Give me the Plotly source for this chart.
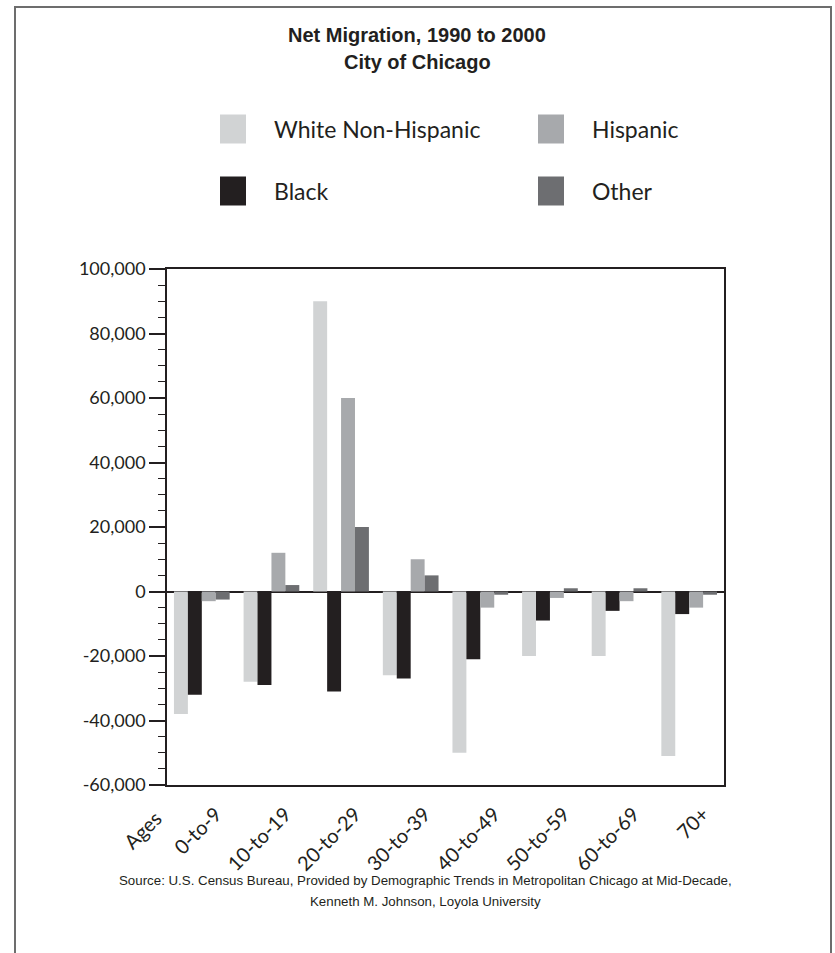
import plotly.graph_objects as go

# ---- data ----
age_groups = ["0-to-9", "10-to-19", "20-to-29", "30-to-39", "40-to-49", "50-to-59", "60-to-69", "70+"]
series_names = ["White Non-Hispanic", "Black", "Hispanic", "Other"]
white_vals = [-38000, -28000, 90000, -26000, -50000, -20000, -20000, -51000]
black_vals = [-32000, -29000, -31000, -27000, -21000, -9000, -6000, -7000]
hispanic_vals = [-3000, 12000, 60000, 10000, -5000, -2000, -3000, -5000]
other_vals = [-2500, 2000, 20000, 5000, -1000, 1000, 1000, -1000]
y_tickvals = [100000, 80000, 60000, 40000, 20000, 0, -20000, -40000, -60000]
y_ticktext = ["100,000", "80,000", "60,000", "40,000", "20,000", "0", "-20,000", "-40,000", "-60,000"]

colors = ["#d1d3d4", "#231f20", "#a7a9ac", "#6d6e71"]
values = [white_vals, black_vals, hispanic_vals, other_vals]

W, H = 835, 953
L, R, T, B = 167, 724, 269, 785  # plot area in pixels
def px(x):
    return (x - L) / (R - L)
def py(y):
    return (B - y) / (B - T)

fig = go.Figure()
for name, vals, c in zip(series_names, values, colors):
    fig.add_trace(go.Bar(x=age_groups, y=vals, name=name,
                         marker=dict(color=c, line=dict(width=0)),
                         showlegend=False))

DARK = "#231f20"
SANS = "Lato, 'Open Sans', sans-serif"
COND = "'Liberation Sans', Arial, Roboto, sans-serif"
label_font = dict(family=SANS, size=18, color=DARK)

fig.update_layout(
    width=W, height=H,
    margin=dict(l=L, r=W - R, t=T, b=H - B, pad=0),
    paper_bgcolor="white", plot_bgcolor="white",
    barmode="group", bargap=0.2, bargroupgap=0,
    font=label_font,
)
fig.update_xaxes(
    type="category", range=[-0.5, 7.5],
    showline=True, linecolor=DARK, linewidth=1.5, mirror=True,
    showgrid=False, ticks="", tickangle=-45,
    tickfont=dict(family=SANS, size=20, color=DARK),
    ticklabelshift=14, ticklabelstandoff=8,
)
fig.update_yaxes(
    range=[-60000, 100000],
    tickvals=y_tickvals, ticktext=y_ticktext,
    showline=True, linecolor=DARK, linewidth=1.5, mirror=True,
    showgrid=False, zeroline=True, zerolinecolor=DARK, zerolinewidth=1.5,
    ticks="outside", ticklen=16, tickwidth=1.5, tickcolor=DARK,
    minor=dict(dtick=5000, ticks="outside", ticklen=7, tickwidth=1.2, tickcolor=DARK, showgrid=False),
    tickfont=label_font,
)

shapes = []
annotations = []
# outer frame
shapes.append(dict(type="rect", xref="paper", yref="paper",
                   x0=px(15), x1=px(831), y0=py(980), y1=py(7),
                   line=dict(color="#6d6d6d", width=2), fillcolor="rgba(0,0,0,0)", layer="below"))

# title
title_font = dict(family=COND, size=20, color=DARK)
annotations.append(dict(text="<b>Net Migration, 1990 to 2000</b>", xref="paper", yref="paper",
                        x=px(417), y=py(35), xanchor="center", yanchor="middle", showarrow=False, font=title_font))
annotations.append(dict(text="<b>City of Chicago</b>", xref="paper", yref="paper",
                        x=px(417), y=py(62), xanchor="center", yanchor="middle", showarrow=False, font=title_font))

# legend (manual, two columns)
leg_pos = [(220, 129), (220, 191), (538, 129), (538, 191)]  # White, Black, Hispanic, Other
leg_font = dict(family=SANS, size=23, color=DARK)
for name, c, (lx, ly) in zip(series_names, colors, leg_pos):
    shapes.append(dict(type="rect", xref="paper", yref="paper",
                       x0=px(lx), x1=px(lx + 26), y0=py(ly + 14.5), y1=py(ly - 14.5),
                       line=dict(width=0), fillcolor=c))
    annotations.append(dict(text=name, xref="paper", yref="paper", x=px(lx + 52), y=py(ly),
                            xanchor="left", yanchor="middle", showarrow=False, font=leg_font))

# "Ages" label
annotations.append(dict(text="Ages", xref="paper", yref="paper", x=px(142), y=py(830),
                        xanchor="center", yanchor="middle", textangle=-45, showarrow=False,
                        font=dict(family=SANS, size=20, color=DARK)))

# source
src_font = dict(family=COND, size=13.3, color=DARK)
annotations.append(dict(text="Source: U.S. Census Bureau, Provided by Demographic Trends in Metropolitan Chicago at Mid-Decade,",
                        xref="paper", yref="paper", x=px(425), y=py(881), xanchor="center", yanchor="middle",
                        showarrow=False, font=src_font))
annotations.append(dict(text="Kenneth M. Johnson, Loyola University",
                        xref="paper", yref="paper", x=px(425), y=py(901), xanchor="center", yanchor="middle",
                        showarrow=False, font=src_font))

fig.update_layout(shapes=shapes, annotations=annotations)
fig.write_html("out.html", config={"displayModeBar": False},
               post_script="document.body.style.margin='0';document.body.style.overflow='hidden';")
